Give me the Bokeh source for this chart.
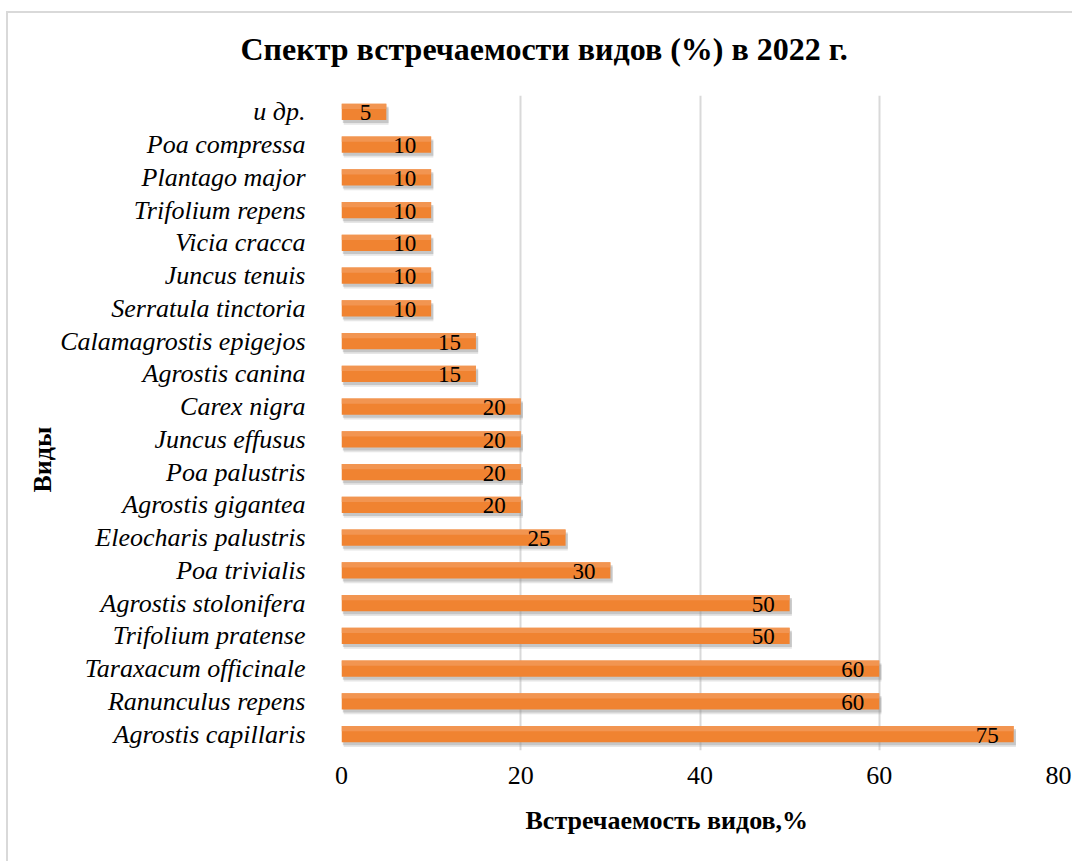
from bokeh.plotting import figure
from bokeh.models import ColumnDataSource, Range1d, FactorRange, FixedTicker, Title
from bokeh.transform import dodge
from bokeh.core.properties import value
from bokeh.embed import file_html
from bokeh.resources import INLINE

# Data (bottom to top)
species = [
    "Agrostis capillaris", "Ranunculus repens", "Taraxacum officinale",
    "Trifolium pratense", "Agrostis stolonifera", "Poa trivialis",
    "Eleocharis palustris", "Agrostis gigantea", "Poa palustris",
    "Juncus effusus", "Carex nigra", "Agrostis canina",
    "Calamagrostis epigejos", "Serratula tinctoria", "Juncus tenuis",
    "Vicia cracca", "Trifolium repens", "Plantago major",
    "Poa compressa", "и др.",
]
occurrence = [75, 60, 60, 50, 50, 30, 25, 20, 20, 20, 20, 15, 15, 10, 10, 10, 10, 10, 10, 5]
x_ticks = [0, 20, 40, 60, 80]

title_text = "Спектр встречаемости видов (%) в 2022 г."
x_title = "Встречаемость  видов,%"
y_title = "Виды"

FONT = "Liberation Serif"

src = ColumnDataSource(dict(
    cat=species,
    val=occurrence,
    lbl=[str(v) for v in occurrence],
    shadow_val=[v + 0.25 for v in occurrence],
))

p = figure(
    y_range=FactorRange(factors=species),
    x_range=Range1d(0, 80),
    frame_width=717, frame_height=655,
    min_border_left=341, min_border_right=14,
    min_border_top=95, min_border_bottom=111,
    output_backend="svg", toolbar_location=None,
)
# chart-area border lines (left and top), drawn behind a transparent canvas
p.styles = {
    "background": "linear-gradient(#d9d9d9,#d9d9d9) 6px 11px / 2px 850px no-repeat, "
                  "linear-gradient(#d9d9d9,#d9d9d9) 6px 11px / 1066px 2px no-repeat, #ffffff"
}

p.outline_line_color = None
p.background_fill_color = "white"
p.border_fill_color = None

# grid
p.ygrid.grid_line_color = None
p.xgrid.grid_line_color = "#d9d9d9"
p.xgrid.grid_line_width = 2
p.xgrid.ticker = FixedTicker(ticks=x_ticks)

# shadows
p.hbar(y=dodge("cat", -0.14, range=p.y_range), right="shadow_val", left=0.25, height=0.5,
       source=src, fill_color="#9a9a9a", fill_alpha=0.25, line_color=None)
p.hbar(y=dodge("cat", -0.09, range=p.y_range), right="shadow_val", left=0.15, height=0.5,
       source=src, fill_color="#8a8a8a", fill_alpha=0.35, line_color=None)
# main bars
p.hbar(y="cat", right="val", left=0, height=0.5, source=src,
       fill_color="#F08331", line_color=None)
# lighter top highlight
p.hbar(y=dodge("cat", 0.17, range=p.y_range), right="val", left=0, height=0.16, source=src,
       fill_color="#F39A5A", fill_alpha=0.8, line_color=None)

# value labels
p.text(x="val", y="cat", text="lbl", source=src, x_offset=-15, y_offset=1,
       text_align="right", text_baseline="middle",
       text_font=value(FONT), text_font_size="23px", text_color="#000000")

# axes
xa = p.xaxis[0]
xa.ticker = FixedTicker(ticks=x_ticks)
xa.axis_line_color = None
xa.major_tick_line_color = None
xa.minor_tick_line_color = None
xa.major_label_text_font = FONT
xa.major_label_text_font_size = "26px"
xa.major_label_text_color = "#000000"
xa.major_label_standoff = 10

ya = p.yaxis[0]
ya.axis_line_color = None
ya.major_tick_line_color = None
ya.minor_tick_line_color = None
ya.major_label_text_font = FONT
ya.major_label_text_font_size = "26px"
ya.major_label_text_font_style = "italic"
ya.major_label_text_color = "#000000"
ya.major_label_standoff = 30

# axis titles as Title objects so they can be offset
xt = Title(text=x_title, align="left", offset=184, standoff=35,
           text_font=FONT, text_font_size="26px", text_font_style="bold",
           text_color="#000000")
p.add_layout(xt, "below")

yt = Title(text=y_title, align="left", offset=258, standoff=1,
           text_font=FONT, text_font_size="26px", text_font_style="bold",
           text_color="#000000")
p.add_layout(yt, "left")

p.title.text = title_text
p.title.text_font = FONT
p.title.text_font_size = "32px"
p.title.text_font_style = "bold"
p.title.align = "left"
p.title.offset = -101
p.title.standoff = 57
p.title.text_color = "#000000"

open("out.html", "w").write(file_html(p, INLINE))
